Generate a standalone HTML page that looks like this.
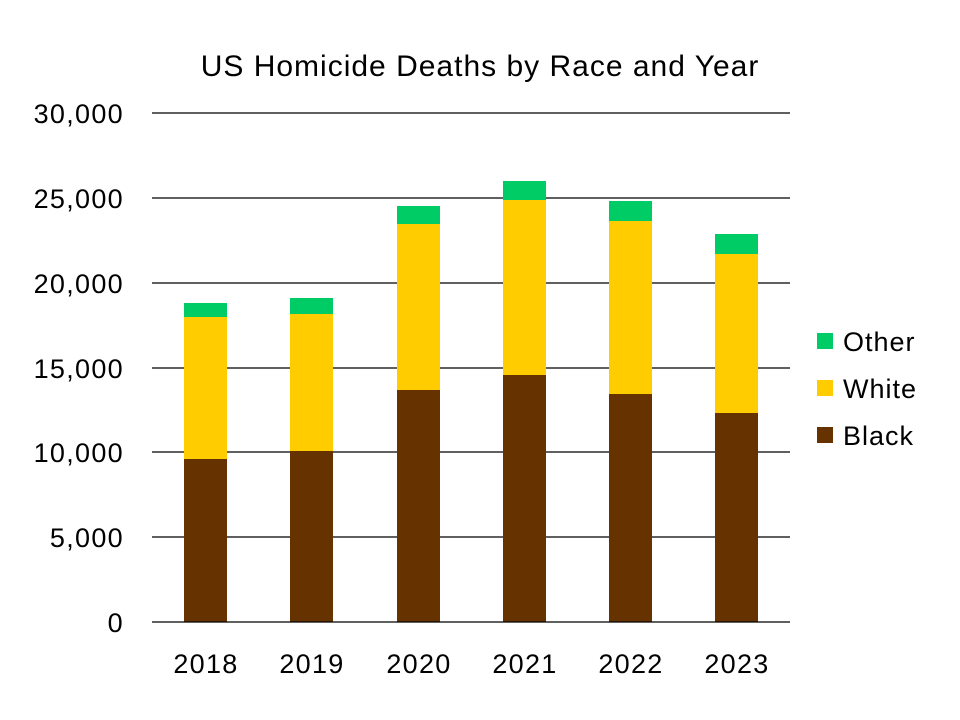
<!DOCTYPE html>
<html><head><meta charset="utf-8"><style>body{margin:0;background:#fff}svg{display:block}</style></head>
<body>
<svg width="960" height="720" xmlns="http://www.w3.org/2000/svg" font-family="Liberation Sans, sans-serif">
<rect width="960" height="720" fill="#fff"/>
<text x="480" y="76" font-size="30" letter-spacing="1" text-anchor="middle" fill="#000">US Homicide Deaths by Race and Year</text>
<g stroke="#000" stroke-width="1.3">
<line x1="152" x2="790" y1="113" y2="113"/>
<line x1="152" x2="790" y1="198" y2="198"/>
<line x1="152" x2="790" y1="283" y2="283"/>
<line x1="152" x2="790" y1="368" y2="368"/>
<line x1="152" x2="790" y1="452" y2="452"/>
<line x1="152" x2="790" y1="537" y2="537"/>
</g>
<g font-size="27" letter-spacing="1.3" text-anchor="end" fill="#000">
<text x="124" y="123">30,000</text>
<text x="124" y="208">25,000</text>
<text x="124" y="293">20,000</text>
<text x="124" y="378">15,000</text>
<text x="124" y="462">10,000</text>
<text x="124" y="547">5,000</text>
<text x="124" y="632">0</text>
</g>
<g>
<rect x="184" y="459" width="43" height="163" fill="#663300"/><rect x="184" y="317" width="43" height="142" fill="#ffcc00"/><rect x="184" y="303" width="43" height="14" fill="#00cc66"/>
<rect x="290" y="451" width="43" height="171" fill="#663300"/><rect x="290" y="314" width="43" height="137" fill="#ffcc00"/><rect x="290" y="298" width="43" height="16" fill="#00cc66"/>
<rect x="397" y="390" width="43" height="232" fill="#663300"/><rect x="397" y="224" width="43" height="166" fill="#ffcc00"/><rect x="397" y="206" width="43" height="18" fill="#00cc66"/>
<rect x="503" y="375" width="43" height="247" fill="#663300"/><rect x="503" y="200" width="43" height="175" fill="#ffcc00"/><rect x="503" y="181" width="43" height="19" fill="#00cc66"/>
<rect x="609" y="394" width="43" height="228" fill="#663300"/><rect x="609" y="221" width="43" height="173" fill="#ffcc00"/><rect x="609" y="201" width="43" height="20" fill="#00cc66"/>
<rect x="715" y="413" width="43" height="209" fill="#663300"/><rect x="715" y="254" width="43" height="159" fill="#ffcc00"/><rect x="715" y="234" width="43" height="20" fill="#00cc66"/>
</g>
<line x1="152" x2="790" y1="622" y2="622" stroke="#000" stroke-width="1.3"/>
<g font-size="27" letter-spacing="1.3" text-anchor="middle" fill="#000">
<text x="206" y="673">2018</text><text x="312" y="673">2019</text><text x="419" y="673">2020</text>
<text x="525" y="673">2021</text><text x="631" y="673">2022</text><text x="737" y="673">2023</text>
</g>
<rect x="817" y="333" width="16" height="16" fill="#00cc66"/>
<rect x="817" y="380" width="16" height="16" fill="#ffcc00"/>
<rect x="817" y="427" width="16" height="16" fill="#663300"/>
<g font-size="27" letter-spacing="1" fill="#000">
<text x="843" y="351">Other</text><text x="843" y="398">White</text><text x="843" y="445">Black</text>
</g>
</svg>
</body></html>
